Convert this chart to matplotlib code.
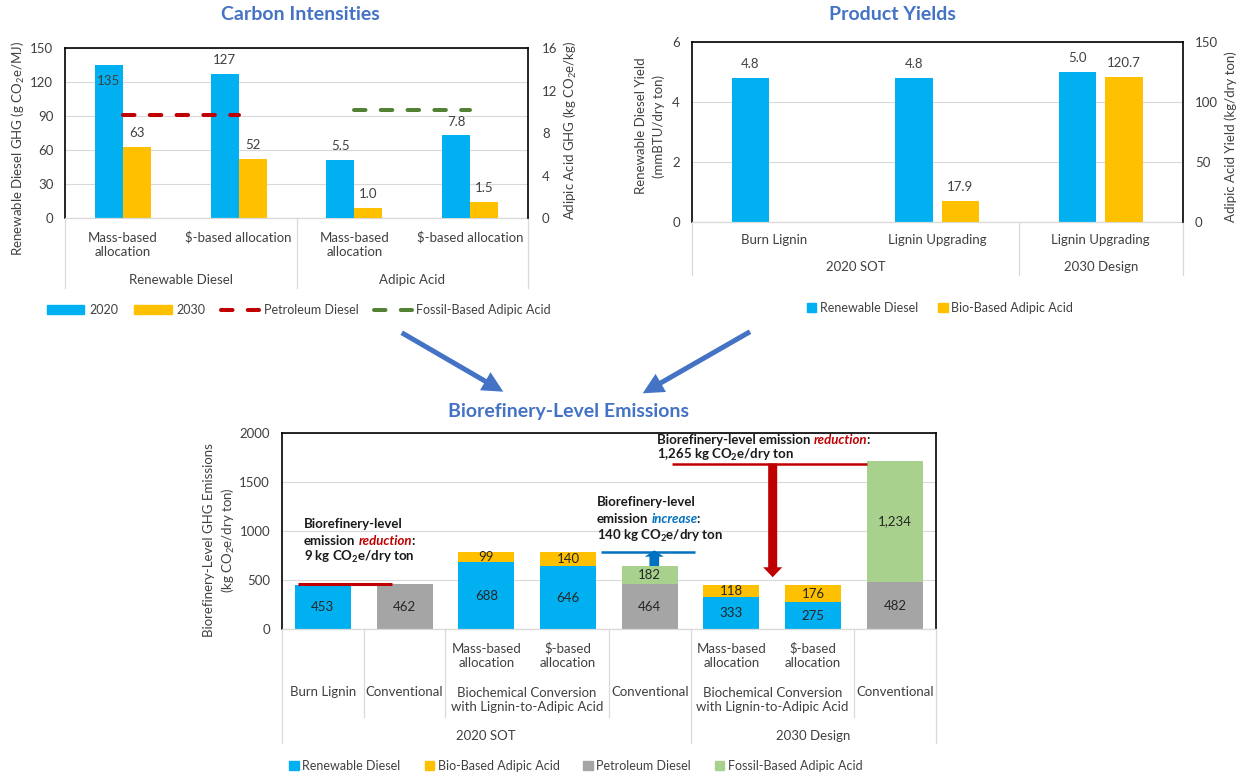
import numpy as np
import matplotlib
matplotlib.use("Agg")
import matplotlib.pyplot as plt
from matplotlib import transforms as mtransforms
from matplotlib.patches import Patch, FancyArrowPatch
from matplotlib.lines import Line2D

# ---------------- data ----------------
# Carbon intensities
ci_categories = ["Mass-based\nallocation", r"\$-based allocation",
                 "Mass-based\nallocation", r"\$-based allocation"]
ci_groups = ["Renewable Diesel", "Adipic Acid"]
rd_ci_2020 = [135, 127]          # g CO2e/MJ
rd_ci_2030 = [63, 52]
aa_ci_2020 = [5.5, 7.8]          # kg CO2e/kg
aa_ci_2030 = [1.0, 1.5]
petroleum_diesel_ci = 91
fossil_adipic_ci = 10.2

# Product yields
yield_categories = ["Burn Lignin", "Lignin Upgrading", "Lignin Upgrading"]
yield_groups = ["2020 SOT", "2030 Design"]
rd_yield = [4.8, 4.8, 5.0]       # mmBTU/dry ton
aa_yield = [np.nan, 17.9, 120.7] # kg/dry ton

# Biorefinery-level emissions (kg CO2e/dry ton)
em_allocation = ["", "", "Mass-based\nallocation", "\\$-based\nallocation", "",
                 "Mass-based\nallocation", "\\$-based\nallocation", ""]
em_pathways = ["Burn Lignin", "Conventional",
               "Biochemical Conversion\nwith Lignin-to-Adipic Acid", "Conventional",
               "Biochemical Conversion\nwith Lignin-to-Adipic Acid", "Conventional"]
em_pathway_members = [[0], [1], [2, 3], [4], [5, 6], [7]]
em_cases = ["2020 SOT", "2030 Design"]
em_case_members = [[0, 1, 2, 3, 4], [5, 6, 7]]
em_renewable_diesel = [453, 0, 688, 646, 0, 333, 275, 0]
em_bio_adipic = [0, 0, 99, 140, 0, 118, 176, 0]
em_petroleum_diesel = [0, 462, 0, 0, 464, 0, 0, 482]
em_fossil_adipic = [0, 0, 0, 0, 182, 0, 0, 1234]
reduction_2020 = 9
increase_2020 = 140
reduction_2030 = 1265

# ---------------- style ----------------
BLUE = "#00B0F0"
ORANGE = "#FFC000"
GRAY = "#A5A5A5"
LGREEN = "#A9D18E"
RED = "#C00000"
DGREEN = "#548235"
TITLE = "#4472C4"
INC_BLUE = "#0070C0"
GRID = "#D9D9D9"
TXT = "#404040"

plt.rcParams["font.family"] = ["Lato", "DejaVu Sans"]
plt.rcParams["mathtext.fontset"] = "custom"
plt.rcParams["mathtext.rm"] = "Lato"
plt.rcParams["mathtext.it"] = "Lato:italic"
plt.rcParams["mathtext.bf"] = "Lato:bold"

FS = 9.5
W, H, DPI = 1246, 776, 100
fig = plt.figure(figsize=(W / DPI, H / DPI), dpi=DPI)
fig.patch.set_facecolor("white")

# figure pixel coordinates, origin at top-left
img = mtransforms.Affine2D().scale(1 / DPI, -1 / DPI).translate(0, H / DPI) + fig.dpi_scale_trans


def rect(l, t, r, b):
    return [l / W, 1 - b / H, (r - l) / W, (b - t) / H]


def style_axes(ax, pad):
    ax.set_facecolor("none")
    for s in ("left", "top", "right"):
        ax.spines[s].set_color("black")
        ax.spines[s].set_linewidth(1.2)
    ax.spines["bottom"].set_color(GRID)
    ax.spines["bottom"].set_linewidth(0.9)
    ax.tick_params(axis="y", length=0, labelsize=FS, labelcolor=TXT, pad=pad)
    ax.set_xticks([])
    ax.grid(axis="y", color=GRID, lw=0.8)
    ax.set_axisbelow(True)


def style_twin(ax, pad):
    for s in ("left", "top", "bottom"):
        ax.spines[s].set_visible(False)
    ax.spines["right"].set_color("black")
    ax.spines["right"].set_linewidth(1.2)
    ax.tick_params(axis="y", length=0, labelsize=FS, labelcolor=TXT, pad=pad)


def value_label(ax, x, v, fmt, top_px):
    # outside end when there is room, otherwise just inside the bar
    lo, hi = ax.get_ylim()
    room = (hi - v) / (hi - lo) * top_px
    dy = 10 if room > 22 else -11.5
    ax.annotate(fmt.format(v), xy=(x, v), xytext=(0, dy), textcoords="offset points",
                ha="center", va="center", fontsize=FS, color=TXT)


def category_text(ax, x, y_px, s, **kw):
    tr = mtransforms.blended_transform_factory(ax.transData, img)
    n = s.count("\n")
    ax.text(x, y_px + 8 * n, s, transform=tr, ha="center", va="center",
            fontsize=FS, color=TXT, linespacing=1.2, clip_on=False, **kw)


def separator(ax, x, y0_px, y1_px):
    tr = mtransforms.blended_transform_factory(ax.transData, img)
    ax.add_line(Line2D([x, x], [y0_px, y1_px], transform=tr, color=GRID, lw=0.9, clip_on=False))


def title(x_px, y_px, s):
    fig.text(x_px, y_px, s, transform=img, ha="center", va="center",
             fontsize=14, fontweight="bold", color=TITLE)


DASH = dict(lw=2.9, dashes=(2.85, 3.8), dash_capstyle="round")

# ======================= Carbon intensities =======================
ax1 = fig.add_axes(rect(65, 48.3, 528, 218.3))
ax1r = ax1.twinx()
style_axes(ax1, pad=8.4)
style_twin(ax1r, pad=10)
ax1.spines["right"].set_visible(False)

x1 = np.arange(len(ci_categories))
w1 = 0.242
ax1.set_xlim(-0.5, 3.5)
ax1.set_ylim(0, 150)
ax1.set_yticks(np.arange(0, 151, 30))
ax1r.set_ylim(0, 16)
ax1r.set_yticks(np.arange(0, 17, 4))

ax1.bar(x1[:2] - w1 / 2, rd_ci_2020, w1, color=BLUE, zorder=2)
ax1.bar(x1[:2] + w1 / 2, rd_ci_2030, w1, color=ORANGE, zorder=2)
ax1r.bar(x1[2:] - w1 / 2, aa_ci_2020, w1, color=BLUE, zorder=2)
ax1r.bar(x1[2:] + w1 / 2, aa_ci_2030, w1, color=ORANGE, zorder=2)
ax1.plot(x1[:2], [petroleum_diesel_ci] * 2, color=RED, zorder=3, **DASH)
ax1r.plot(x1[2:], [fossil_adipic_ci] * 2, color=DGREEN, zorder=3, **DASH)

for i in range(2):
    value_label(ax1, x1[i] - w1 / 2, rd_ci_2020[i], "{:.0f}", 170)
    value_label(ax1, x1[i] + w1 / 2, rd_ci_2030[i], "{:.0f}", 170)
    value_label(ax1r, x1[i + 2] - w1 / 2, aa_ci_2020[i], "{:.1f}", 170)
    value_label(ax1r, x1[i + 2] + w1 / 2, aa_ci_2030[i], "{:.1f}", 170)

ax1.set_ylabel("Renewable Diesel GHG (g CO$_2$e/MJ)", fontsize=FS, color=TXT,
               ha="center", va="center")
ax1.yaxis.set_label_coords(18, 149, transform=img)
ax1r.set_ylabel("Adipic Acid GHG (kg CO$_2$e/kg)", fontsize=FS, color=TXT,
                ha="center", va="center", rotation=90)
ax1r.yaxis.set_label_coords(570, 130, transform=img)

for i, s in enumerate(ci_categories):
    category_text(ax1, x1[i], 237, s)
for g, s in enumerate(ci_groups):
    category_text(ax1, 2 * g + 0.5, 280, s)
for xb in (-0.5, 1.5, 3.5):
    separator(ax1, xb, 218.3, 288)

title(300, 15, "Carbon Intensities")
h1 = [Patch(color=BLUE), Patch(color=ORANGE),
      Line2D([], [], color=RED, **DASH), Line2D([], [], color=DGREEN, **DASH)]
fig.legend(h1, ["2020", "2030", "Petroleum Diesel", "Fossil-Based Adipic Acid"],
           loc="center", bbox_to_anchor=(299 / W, 1 - 310 / H), ncol=4, frameon=False,
           fontsize=9, handlelength=3.0, handleheight=0.75, handletextpad=0.4,
           columnspacing=1.25, labelcolor=TXT)

# ======================= Product yields =======================
ax2 = fig.add_axes(rect(692, 41.7, 1182.5, 222.3))
ax2r = ax2.twinx()
style_axes(ax2, pad=8.6)
style_twin(ax2r, pad=9)
ax2.spines["right"].set_visible(False)

x2 = np.arange(len(yield_categories))
w2, gap2 = 0.229, 0.055
off2 = (w2 + gap2) / 2
ax2.set_xlim(-0.5, 2.5)
ax2.set_ylim(0, 6)
ax2.set_yticks(np.arange(0, 7, 2))
ax2r.set_ylim(0, 150)
ax2r.set_yticks(np.arange(0, 151, 50))

ax2.bar(x2 - off2, rd_yield, w2, color=BLUE, zorder=2)
aa_mask = ~np.isnan(aa_yield)
ax2r.bar(x2[aa_mask] + off2, np.asarray(aa_yield)[aa_mask], w2, color=ORANGE, zorder=2)
for i in range(len(x2)):
    value_label(ax2, x2[i] - off2, rd_yield[i], "{:.1f}", 180)
    if aa_mask[i]:
        value_label(ax2r, x2[i] + off2, aa_yield[i], "{:.1f}", 180)

ax2.set_ylabel("Renewable Diesel Yield\n(mmBTU/dry ton)", fontsize=FS, color=TXT,
               ha="center", va="center", multialignment="center", linespacing=1.5)
ax2.yaxis.set_label_coords(650, 126, transform=img)
ax2r.set_ylabel("Adipic Acid Yield (kg/dry ton)", fontsize=FS, color=TXT,
                ha="center", va="center", rotation=90)
ax2r.yaxis.set_label_coords(1231, 137, transform=img)

for i, s in enumerate(yield_categories):
    category_text(ax2, x2[i], 240, s)
category_text(ax2, 0.5, 267, yield_groups[0])
category_text(ax2, 2, 267, yield_groups[1])
for xb in (-0.5, 1.5, 2.5):
    separator(ax2, xb, 222.3, 275)

title(892, 15, "Product Yields")
h2 = [Patch(color=BLUE), Patch(color=ORANGE)]
fig.legend(h2, ["Renewable Diesel", "Bio-Based Adipic Acid"],
           loc="center", bbox_to_anchor=(940 / W, 1 - 308 / H), ncol=2, frameon=False,
           fontsize=9, handlelength=0.75, handleheight=0.75, handletextpad=0.3,
           columnspacing=1.6, labelcolor=TXT)

# ======================= Biorefinery-level emissions =======================
ax3 = fig.add_axes(rect(282, 433.3, 935.7, 629.3))
style_axes(ax3, pad=8.6)
x3 = np.arange(len(em_allocation))
w3 = 0.685
ax3.set_xlim(-0.5, 7.5)
ax3.set_ylim(0, 2000)
ax3.set_yticks(np.arange(0, 2001, 500))

rd = np.array(em_renewable_diesel)
pdsl = np.array(em_petroleum_diesel)
b_rd = ax3.bar(x3, rd, w3, color=BLUE, zorder=2)
b_pd = ax3.bar(x3, pdsl, w3, color=GRAY, zorder=2)
b_aa = ax3.bar(x3, em_bio_adipic, w3, bottom=rd, color=ORANGE, zorder=2)
b_fa = ax3.bar(x3, em_fossil_adipic, w3, bottom=pdsl, color=LGREEN, zorder=2)
for cont, vals in ((b_rd, em_renewable_diesel), (b_pd, em_petroleum_diesel),
                   (b_aa, em_bio_adipic), (b_fa, em_fossil_adipic)):
    ax3.bar_label(cont, labels=[f"{v:,}" if v else "" for v in vals],
                  label_type="center", fontsize=FS, color="#262626")

ax3.set_ylabel("Biorefinery-Level GHG Emissions\n(kg CO$_2$e/dry ton)", fontsize=FS,
               color=TXT, ha="center", va="center", multialignment="center",
               linespacing=1.45)
ax3.yaxis.set_label_coords(220, 540, transform=img)

for i, s in enumerate(em_allocation):
    if s:
        category_text(ax3, x3[i], 647.7, s)
for s, members in zip(em_pathways, em_pathway_members):
    category_text(ax3, np.mean(members), 692, s)
for s, members in zip(em_cases, em_case_members):
    category_text(ax3, np.mean(members), 736, s)
for xb in (0.5, 1.5, 3.5, 6.5):
    separator(ax3, xb, 629.3, 717)
for xb in (-0.5, 4.5, 7.5):
    separator(ax3, xb, 629.3, 743)

title(568, 411.7, "Biorefinery-Level Emissions")

AFS = 9.5


def rich_line(ax, x, y, parts):
    t = None
    for k, (s, color, style, gap) in enumerate(parts):
        kw = dict(fontsize=AFS, fontweight="bold", color=color, style=style,
                  va="center", ha="left", zorder=5)
        if t is None:
            t = ax.text(x, y, s, **kw)
        else:
            t = ax.annotate(s, xy=(1, 0.5), xycoords=t, xytext=(gap, 0),
                            textcoords="offset points", **kw)
    return t


K = "#1A1A1A"
CO2 = r"kg CO$_\mathbf{2}$e/dry ton"

# 2020: burn lignin vs conventional
burn_total = em_renewable_diesel[0]
ax3.plot([-0.305, 0.845], [burn_total + reduction_2020] * 2, color=RED, lw=2.2, zorder=4,
         solid_capstyle="butt")
rich_line(ax3, -0.231, 1074, [("Biorefinery-level", K, "normal", 0)])
rich_line(ax3, -0.231, 904, [("emission", K, "normal", 0),
                             ("reduction", RED, "italic", 2.6),
                             (":", K, "normal", -1.0)])
rich_line(ax3, -0.231, 738, [(f"{reduction_2020} " + CO2, K, "normal", 0)])

# 2020: lignin upgrading vs conventional
conv_2020 = em_petroleum_diesel[4] + em_fossil_adipic[4]
ax3.plot([3.41, 4.555], [conv_2020 + increase_2020] * 2, color=INC_BLUE, lw=1.8, zorder=4,
         solid_capstyle="butt")
ax3.add_patch(FancyArrowPatch((4.056, conv_2020), (4.056, conv_2020 + increase_2020 + 20),
                              arrowstyle="simple,head_length=4.6,head_width=13.7,tail_width=7",
                              mutation_scale=1, color=INC_BLUE, lw=0, shrinkA=0, shrinkB=0,
                              zorder=4))
rich_line(ax3, 3.351, 1302, [("Biorefinery-level", K, "normal", 0)])
rich_line(ax3, 3.351, 1125, [("emission", K, "normal", 0),
                             ("increase", INC_BLUE, "italic", 2.6),
                             (":", K, "normal", -1.0)])
rich_line(ax3, 3.351, 955, [(f"{increase_2020} " + CO2, K, "normal", 0)])

# 2030: lignin upgrading vs conventional
conv_2030 = em_petroleum_diesel[7] + em_fossil_adipic[7]
design_2030 = conv_2030 - reduction_2030
ax3.plot([4.27, 6.66], [conv_2030 - 25] * 2, color=RED, lw=1.8, zorder=4,
         solid_capstyle="butt")
ax3.add_patch(FancyArrowPatch((5.505, conv_2030 - 25), (5.505, design_2030 + 80),
                              arrowstyle="simple,head_length=7.2,head_width=13.7,tail_width=6.5",
                              mutation_scale=1, color=RED, lw=0, shrinkA=0, shrinkB=0,
                              zorder=4))
rich_line(ax3, 4.086, 1932, [("Biorefinery-level emission", K, "normal", 0),
                             ("reduction", RED, "italic", 2.6),
                             (":", K, "normal", -1.0)])
rich_line(ax3, 4.086, 1778, [(f"{reduction_2030:,} " + CO2, K, "normal", 0)])

h3 = [Patch(color=BLUE), Patch(color=ORANGE), Patch(color=GRAY), Patch(color=LGREEN)]
fig.legend(h3, ["Renewable Diesel", "Bio-Based Adipic Acid", "Petroleum Diesel",
                "Fossil-Based Adipic Acid"],
           loc="center", bbox_to_anchor=(576 / W, 1 - 766 / H), ncol=4, frameon=False,
           fontsize=9, handlelength=0.75, handleheight=0.75, handletextpad=0.3,
           columnspacing=1.9, labelcolor=TXT)

# ======================= connector arrows =======================
for (xa, ya), (xb, yb) in (((401.7, 332.7), (503.3, 391.7)),
                           ((750.0, 331.7), (642.7, 393.3))):
    fig.add_artist(FancyArrowPatch((xa, ya), (xb, yb), transform=img,
                                   arrowstyle="simple,head_length=15,head_width=15,tail_width=3.6",
                                   mutation_scale=1, color=TITLE, lw=0,
                                   shrinkA=0, shrinkB=0))

fig.savefig("out.png", dpi=DPI, facecolor="white")
